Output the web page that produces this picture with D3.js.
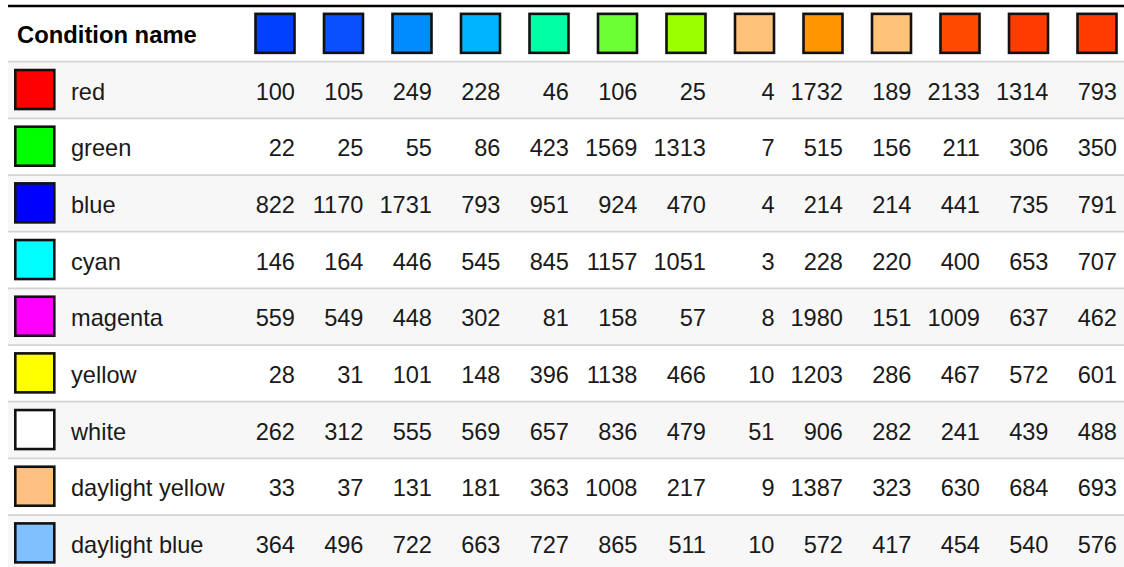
<!DOCTYPE html>
<html>
<head>
<meta charset="utf-8">
<script src="https://cdn.jsdelivr.net/npm/d3@7"></script>
<style>
  html, body { margin: 0; padding: 0; background: #ffffff; overflow: hidden; }
  svg { display: block; }
  text { font-family: "Liberation Sans", Arial, sans-serif; }
</style>
</head>
<body>
<svg id="chart" width="1124" height="567"></svg>
<script>
// ---- data ----
const headerTitle = "Condition name";
const columnColors = ["#0040ff", "#0a50ff", "#008cff", "#00b4ff", "#00ffa5", "#6cff33", "#9cff00",
                      "#ffc278", "#ff9600", "#ffc278", "#ff4a00", "#ff3c00", "#ff3c00"];
const conditionNames = ["red", "green", "blue", "cyan", "magenta", "yellow", "white", "daylight yellow", "daylight blue"];
const conditionColors = ["#ff0000", "#00ff00", "#0000ff", "#00ffff", "#ff00ff", "#ffff00", "#ffffff", "#ffc080", "#80c0ff"];
const redValues      = [100, 105, 249, 228, 46, 106, 25, 4, 1732, 189, 2133, 1314, 793];
const greenValues    = [22, 25, 55, 86, 423, 1569, 1313, 7, 515, 156, 211, 306, 350];
const blueValues     = [822, 1170, 1731, 793, 951, 924, 470, 4, 214, 214, 441, 735, 791];
const cyanValues     = [146, 164, 446, 545, 845, 1157, 1051, 3, 228, 220, 400, 653, 707];
const magentaValues  = [559, 549, 448, 302, 81, 158, 57, 8, 1980, 151, 1009, 637, 462];
const yellowValues   = [28, 31, 101, 148, 396, 1138, 466, 10, 1203, 286, 467, 572, 601];
const whiteValues    = [262, 312, 555, 569, 657, 836, 479, 51, 906, 282, 241, 439, 488];
const dlYellowValues = [33, 37, 131, 181, 363, 1008, 217, 9, 1387, 323, 630, 684, 693];
const dlBlueValues   = [364, 496, 722, 663, 727, 865, 511, 10, 572, 417, 454, 540, 576];
const rowValues = [redValues, greenValues, blueValues, cyanValues, magentaValues,
                   yellowValues, whiteValues, dlYellowValues, dlBlueValues];

// ---- layout ----
const svg = d3.select("#chart");
const tableLeft = 8, tableRight = 1130;
const headerTop = 6, headerBottom = 61.7, rowH = 56.67;
const colStart = 235, colW = 68.5, padR = 9;
const fontSize = 23.6;
const textColor = "#1a1a1a";

const rows = conditionNames.map((n, i) => ({ name: n, color: conditionColors[i], values: rowValues[i], idx: i }));

const y = d3.scaleBand().domain(d3.range(rows.length))
  .range([headerBottom, headerBottom + rowH * rows.length]).padding(0);
const x = d3.scaleBand().domain(d3.range(columnColors.length))
  .range([colStart, colStart + colW * columnColors.length]).padding(0);

// row backgrounds (striped)
svg.selectAll("rect.rowbg").data(rows).join("rect")
  .attr("class", "rowbg")
  .attr("x", tableLeft).attr("width", tableRight - tableLeft)
  .attr("y", d => y(d.idx)).attr("height", y.bandwidth())
  .attr("fill", d => d.idx % 2 === 0 ? "#f7f7f7" : "#ffffff");

// row separator lines
svg.selectAll("line.sep").data(d3.range(rows.length + 1)).join("line")
  .attr("class", "sep")
  .attr("x1", tableLeft).attr("x2", tableRight)
  .attr("y1", i => headerBottom + i * rowH).attr("y2", i => headerBottom + i * rowH)
  .attr("stroke", "#d3d3d3").attr("stroke-width", 1.8);

// top border
svg.append("line")
  .attr("x1", tableLeft).attr("x2", tableRight)
  .attr("y1", headerTop).attr("y2", headerTop)
  .attr("stroke", "#000").attr("stroke-width", 2.6);

// header title
svg.append("text")
  .attr("x", 17).attr("y", (headerTop + headerBottom) / 2 + 9.6)
  .attr("font-size", 23.8).attr("font-weight", "bold")
  .attr("fill", "#000")
  .text(headerTitle);

// header swatches
const sw = 39;
svg.selectAll("rect.hsw").data(columnColors).join("rect")
  .attr("class", "hsw")
  .attr("x", (d, i) => x(i) + x.bandwidth() - padR - sw)
  .attr("y", (headerTop + headerBottom) / 2 - sw / 2 - 0.5)
  .attr("width", sw).attr("height", sw)
  .attr("fill", d => d)
  .attr("stroke", "#111").attr("stroke-width", 2.6);

// row groups
const g = svg.selectAll("g.row").data(rows).join("g")
  .attr("class", "row")
  .attr("transform", d => `translate(0,${y(d.idx) + y.bandwidth() / 2})`);

g.append("rect")
  .attr("x", 15.3).attr("y", -sw / 2 - 0.5)
  .attr("width", sw).attr("height", sw)
  .attr("fill", d => d.color)
  .attr("stroke", "#111").attr("stroke-width", 2.6);

g.append("text")
  .attr("x", 71).attr("y", 9.6)
  .attr("font-size", fontSize).attr("fill", textColor)
  .text(d => d.name);

g.selectAll("text.val").data(d => d.values).join("text")
  .attr("class", "val")
  .attr("x", (v, i) => x(i) + x.bandwidth() - padR + 0.5)
  .attr("y", 9.6)
  .attr("text-anchor", "end")
  .attr("font-size", fontSize).attr("fill", textColor)
  .text(v => d3.format("d")(v));
</script>
</body>
</html>
